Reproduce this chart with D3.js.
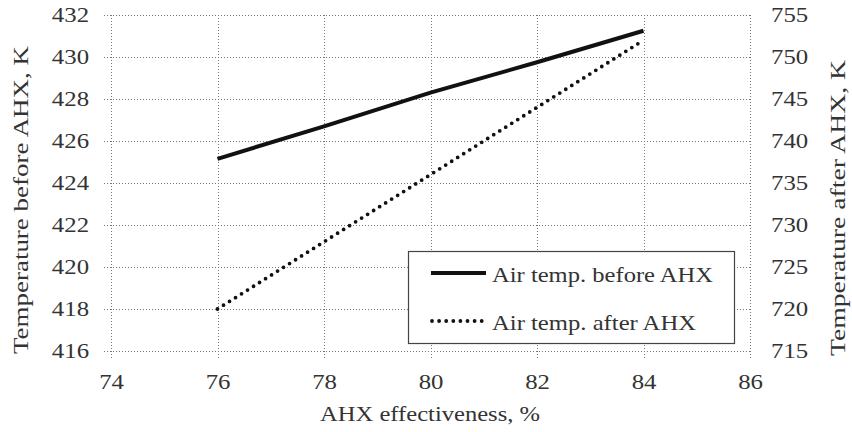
<!DOCTYPE html>
<html><head><meta charset="utf-8">
<script src="https://cdn.jsdelivr.net/npm/d3@7"></script>
<style>body{margin:0;background:#fff}svg{display:block}</style>
</head><body><svg id="c" width="852" height="432"></svg>
<script>
const xValues = [76, 78, 80, 82, 84];
const beforeAHX = [425.15, 426.7, 428.3, 429.75, 431.25];
const afterAHX = [720, 728, 736, 744, 752];
const xTicks = [74, 76, 78, 80, 82, 84, 86];
const yLeftTicks = [416, 418, 420, 422, 424, 426, 428, 430, 432];
const yRightTicks = [715, 720, 725, 730, 735, 740, 745, 750, 755];
const legendLabels = ["Air temp. before AHX", "Air temp. after AHX"];

const FONT = "Liberation Serif";
const INK = "#333";
const svg = d3.select("#c");
const L = 111, R = 750, T = 15, B = 351;
const x = d3.scaleLinear().domain([74, 86]).range([L, R]);
const yL = d3.scaleLinear().domain([416, 432]).range([B, T]);
const yR = d3.scaleLinear().domain([715, 755]).range([B, T]);

function stretch(sel, factor, target) {
  sel.each(function () {
    const w = this.getComputedTextLength();
    const t = target != null ? target : w * factor;
    d3.select(this).attr("textLength", t).attr("lengthAdjust", "spacingAndGlyphs");
  });
}

const grid = svg.append("g").attr("stroke", "#777").attr("stroke-width", 1).attr("stroke-dasharray", "1,2");
xTicks.forEach(t => {
  grid.append("line").attr("x1", Math.round(x(t)) + 0.5).attr("x2", Math.round(x(t)) + 0.5)
    .attr("y1", T).attr("y2", B + 7);
});
yLeftTicks.forEach(t => {
  grid.append("line").attr("y1", Math.round(yL(t)) + 0.5).attr("y2", Math.round(yL(t)) + 0.5)
    .attr("x1", L - 7).attr("x2", R);
});

// axes (labels only)
const ax = svg.append("g").attr("transform", `translate(0,${B})`)
  .call(d3.axisBottom(x).tickValues(xTicks).tickSize(0).tickPadding(22));
const ayl = svg.append("g").attr("transform", `translate(${L},0)`)
  .call(d3.axisLeft(yL).tickValues(yLeftTicks).tickSize(0).tickPadding(22));
const ayr = svg.append("g").attr("transform", `translate(${R},0)`)
  .call(d3.axisRight(yR).tickValues(yRightTicks).tickSize(0).tickPadding(21));
[ax, ayl, ayr].forEach(g => {
  g.attr("font-family", FONT).attr("font-size", 21);
  g.select(".domain").remove();
  g.selectAll("text").attr("fill", INK);
  stretch(g.selectAll("text"), 1.18);
});
ax.selectAll("text").attr("dy", null).attr("y", 38);

// lines
const line = (yS) => d3.line().x((d, i) => x(xValues[i])).y(d => yS(d));
svg.append("path").datum(afterAHX).attr("d", line(yR)).attr("fill", "none")
  .attr("stroke", "#111").attr("stroke-width", 3.8).attr("stroke-linecap", "round").attr("stroke-dasharray", "0,7.1");
svg.append("path").datum(beforeAHX).attr("d", line(yL)).attr("fill", "none")
  .attr("stroke", "#111").attr("stroke-width", 4);

// legend
const lg = svg.append("g");
lg.append("rect").attr("x", 408.5).attr("y", 251.5).attr("width", 326).attr("height", 92)
  .attr("fill", "#fff").attr("stroke", "#444").attr("stroke-width", 1.2);
lg.append("line").attr("x1", 431).attr("x2", 486).attr("y1", 273).attr("y2", 273)
  .attr("stroke", "#111").attr("stroke-width", 4);
lg.append("line").attr("x1", 432).attr("x2", 486).attr("y1", 321).attr("y2", 321)
  .attr("stroke", "#111").attr("stroke-width", 3.8).attr("stroke-linecap", "round").attr("stroke-dasharray", "0,7.1");
const legendWidths = [221, 204];
legendLabels.forEach((s, i) => {
  const t = lg.append("text").attr("x", 492).attr("y", 282 + i * 48)
    .attr("font-family", FONT).attr("font-size", 22).attr("fill", INK).text(s);
  stretch(t, null, legendWidths[i]);
});

// titles
const xt = svg.append("text").attr("x", 430).attr("y", 421).attr("text-anchor", "middle")
  .attr("font-family", FONT).attr("font-size", 21).attr("fill", INK).text("AHX effectiveness, %");
stretch(xt, null, 220);
const ylt = svg.append("text").attr("transform", "translate(28,200) rotate(-90)").attr("text-anchor", "middle")
  .attr("font-family", FONT).attr("font-size", 21).attr("fill", INK).text("Temperature before AHX, K");
stretch(ylt, null, 308);
const yrt = svg.append("text").attr("transform", "translate(845,208) rotate(-90)").attr("text-anchor", "middle")
  .attr("font-family", FONT).attr("font-size", 21).attr("fill", INK).text("Temperature after AHX, K");
stretch(yrt, null, 296);
</script></body></html>
